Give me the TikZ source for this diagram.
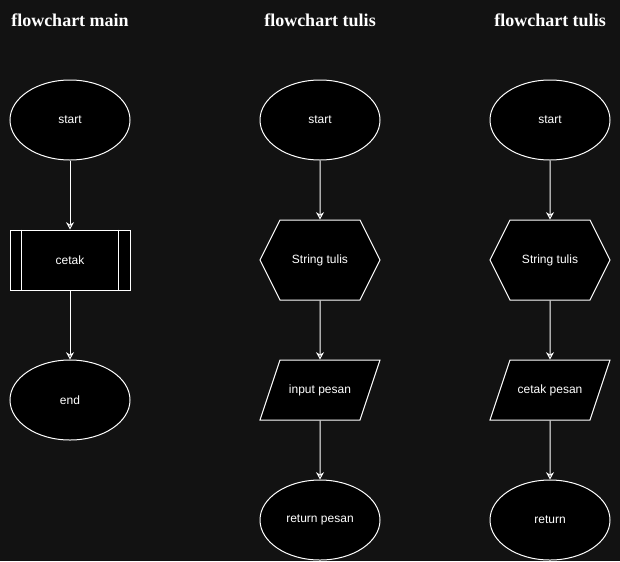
\documentclass[tikz,border=0pt]{standalone}
\usepackage{fontspec}
\setmainfont{Liberation Sans}
\newfontfamily\titlefont{Liberation Serif}
\usepackage{tikz}
\usetikzlibrary{arrows.meta, positioning, shapes.geometric, shapes.symbols}
\definecolor{canvas}{HTML}{121212}

\begin{document}
\begin{tikzpicture}[x=0.75pt,y=-0.75pt,on grid,node distance=105pt,>={Stealth[length=5.5pt,width=6pt,inset=1.8pt]},
        every node/.style={text=white,font=\fontsize{9}{11}\selectfont},
        box/.style={draw=white,fill=black,line width=0.75pt},
        terminal/.style={box,ellipse,minimum width=90pt,minimum height=60pt,inner sep=0pt},
        subproc/.style={box,rectangle,minimum width=90pt,minimum height=45pt},
        prep/.style={box,signal,signal to=east and west,signal pointer angle=126.87,minimum width=90pt,minimum height=60pt},
        io/.style={box,trapezium,trapezium left angle=45,trapezium right angle=135,trapezium stretches body,
                   text height=7pt,text depth=2pt,inner ysep=3pt,minimum width=90pt,minimum height=45pt},
        title/.style={font=\titlefont\bfseries\fontsize{13.5}{16}\selectfont}]

      \fill[canvas] (0,0) rectangle (620,561);

      % flowchart main
      \node[title]    (t_main)  at (70,20)  {flowchart main};
      \node[terminal] (start_m) at (70,120) {start};
      \node[subproc]  (cetak)   [below=of start_m] {cetak};
      \node[terminal] (end_m)   [below=of cetak]   {end};
      \draw[white,line width=0.75pt] ([xshift=9pt]cetak.north west) -- ([xshift=9pt]cetak.south west)
                                     ([xshift=-9pt]cetak.north east) -- ([xshift=-9pt]cetak.south east);

      % flowchart tulis (input)
      \node[title]    (t_in)     at (320,20)  {flowchart tulis};
      \node[terminal] (start_in) at (320,120) {start};
      \node[prep]     (str_in)   [below=of start_in]        {String tulis};
      \node[io]       (input)    [below=97.5pt of str_in]  {input pesan};
      \node[terminal] (ret_in)   [below=97.5pt of input]   {return pesan};

      % flowchart tulis (output)
      \node[title]    (t_out)     at (550,20)  {flowchart tulis};
      \node[terminal] (start_out) at (550,120) {start};
      \node[prep]     (str_out)   [below=of start_out]       {String tulis};
      \node[io]       (cetak_out) [below=97.5pt of str_out] {cetak pesan};
      \node[terminal] (ret_out)   [below=97.5pt of cetak_out] {return};

      \path[->,draw=white,line width=0.75pt]
            (start_m) edge (cetak)
            (cetak) edge (end_m)
            (start_in) edge (str_in)
            (str_in) edge (input)
            (input) edge (ret_in)
            (start_out) edge (str_out)
            (str_out) edge (cetak_out)
            (cetak_out) edge (ret_out);
    \end{tikzpicture}
\end{document}
